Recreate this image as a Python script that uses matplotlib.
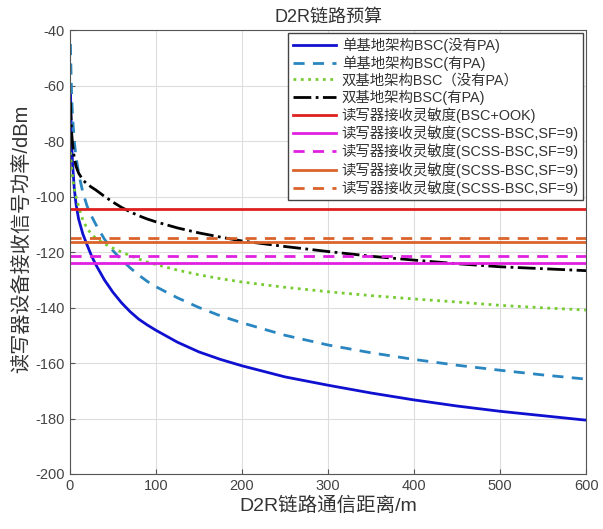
import matplotlib
matplotlib.use("Agg")
from matplotlib import pyplot as plt

# 距离 (m)
dist = [0.6, 1, 2, 3, 5, 7, 10, 15, 20, 25, 30, 40, 50, 60, 70, 80, 90, 100,
        125, 150, 175, 200, 250, 300, 350, 400, 450, 500, 550, 600]

# 接收功率 (dBm)
mono_no_pa = [-60, -69, -81, -88, -97, -102.5, -108, -113.5, -117.5, -121.3,
              -124.5, -130, -134.5, -138.3, -141.5, -144.2, -146.3, -148.2,
              -152.5, -156, -158.7, -161, -165, -168, -170.8, -173.3, -175.5,
              -177.4, -179, -180.6]
mono_pa = [-45, -52, -64, -71, -80, -85.5, -91.5, -98.5, -103.5, -107, -110,
           -115.3, -119.5, -122.8, -125.7, -128.3, -130.6, -132.5, -136.5, -140,
           -143, -145.5, -150, -153.5, -156.3, -158.7, -160.8, -162.6, -164.3,
           -165.8]
bi_no_pa = [-84, -86, -90, -93, -97, -100, -103.5, -108.5, -111.5, -113.5, -115,
            -117, -118.6, -120, -121.3, -122.5, -123.6, -124.5, -126.5, -128.2,
            -129.6, -130.8, -132.7, -134.3, -135.7, -136.9, -138, -139.2,
            -140.1, -140.9]
bi_pa = [-66, -70, -77, -81, -86, -89, -91.5, -94, -95.5, -96.6, -97.6, -99.9,
         -102, -103.9, -105.5, -106.9, -108.1, -109.1, -111.3, -113.1, -114.6,
         -116, -118, -119.8, -121.5, -122.9, -124.2, -125.3, -126, -126.7]

# 读写器接收灵敏度 (dBm)
sens_labels = ['读写器接收灵敏度(BSC+OOK)',
               '读写器接收灵敏度(SCSS-BSC,SF=9)',
               '读写器接收灵敏度(SCSS-BSC,SF=9)',
               '读写器接收灵敏度(SCSS-BSC,SF=9)',
               '读写器接收灵敏度(SCSS-BSC,SF=9)']
sens_values = [-104.5, -124, -121.5, -116.3, -114.9]

fonts = ['Liberation Sans', 'Noto Sans CJK SC', 'DejaVu Sans']
plt.rcParams['font.family'] = fonts
plt.rcParams['axes.unicode_minus'] = False

fig = plt.figure(figsize=(6.03, 5.29), dpi=100)
ax = fig.add_axes([0.116, 0.104, 0.856, 0.839])

ax.plot(dist, mono_no_pa, color='#1010d0', lw=2, label='单基地架构BSC(没有PA)')
ax.plot(dist, mono_pa, color='#2a86c0', lw=2, ls=(0, (4, 3)), label='单基地架构BSC(有PA)')
ax.plot(dist, bi_no_pa, color='#77cc33', lw=2, ls=':', label='双基地架构BSC（没有PA）')
ax.plot(dist, bi_pa, color='black', lw=2, ls='-.', label='双基地架构BSC(有PA)')

sens_colors = ['#e02020', '#e020e0', '#e020e0', '#d9632a', '#d9632a']
sens_styles = ['-', '-', (0, (4, 3)), '-', (0, (4, 3))]
for v, lab, c, s in zip(sens_values, sens_labels, sens_colors, sens_styles):
    ax.axhline(v, color=c, ls=s, lw=2, label=lab)

ax.set_xlim(0, 600)
ax.set_ylim(-200, -40)
ax.set_xticks(range(0, 601, 100))
ax.set_yticks(range(-200, -39, 20))
ax.grid(True, color='#dddddd', lw=0.8)
ax.tick_params(direction='in', labelsize=10.5, labelcolor='#444444', color='#555555')
for sp in ax.spines.values():
    sp.set_color('#555555')

ax.set_title('D2R链路预算', fontsize=13, color='#333333', pad=6)
ax.set_xlabel('D2R链路通信距离/m', fontsize=14, color='#333333', labelpad=3)
ax.set_ylabel('读写器设备接收信号功率/dBm', fontsize=14.5, color='#333333')
ax.yaxis.set_label_coords(-0.076, 0.53)

leg = ax.legend(loc='upper right', fontsize=10.4, handlelength=3.0, labelspacing=0.18,
                borderaxespad=0.2, fancybox=False, edgecolor='#444444', framealpha=1,
                borderpad=0.3, handletextpad=0.4)
for t in leg.get_texts():
    t.set_color('#333333')

plt.savefig('out.png', dpi=100)
plt.close()
